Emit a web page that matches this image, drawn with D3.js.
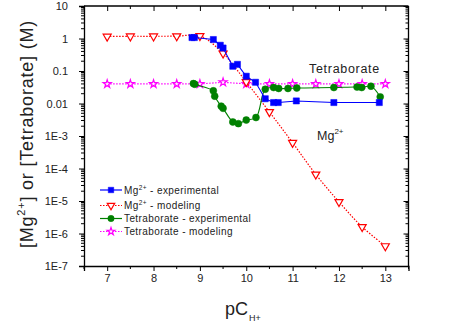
<!DOCTYPE html>
<html><head><meta charset="utf-8">
<script src="https://cdn.jsdelivr.net/npm/d3@7"></script>
<style>body{margin:0;background:#fff;}svg{display:block;font-family:"Liberation Sans",Arial,sans-serif;}</style>
</head><body><svg id="c" width="459" height="329"></svg>
<script>
// ---- data ----
const mgExpX = [8.83, 8.88, 9.29, 9.44, 9.5, 9.71, 9.81, 10.0, 10.2, 10.41, 10.59, 10.69, 11.08, 11.89, 12.87];
const mgExpY = [1.07, 1.07, 0.93, 0.62, 0.51, 0.14, 0.16, 0.069, 0.045, 0.014, 0.0107, 0.0107, 0.012, 0.0107, 0.0107];
const mgModX = [7, 7.5, 8, 8.5, 9, 9.5, 10, 10.5, 11, 11.5, 12, 12.5, 13];
const mgModY = [1.15, 1.17, 1.17, 1.18, 1.2, 0.35, 0.046, 0.0055, 6.2e-4, 6.6e-5, 9.4e-6, 1.6e-6, 4.1e-7];
const tetExpX = [8.86, 8.89, 9.29, 9.32, 9.46, 9.5, 9.71, 9.83, 10.0, 10.21, 10.41, 10.59, 10.7, 10.9, 11.09, 11.89, 12.39, 12.49, 12.69, 12.89];
const tetExpY = [0.041, 0.039, 0.0245, 0.0168, 0.0083, 0.0071, 0.0027, 0.0024, 0.0031, 0.0037, 0.0275, 0.031, 0.029, 0.029, 0.030, 0.031, 0.032, 0.031, 0.034, 0.016];
const tetModX = [7, 7.5, 8, 8.5, 9, 9.5, 10, 10.5, 11, 11.5, 12, 12.5, 13];
const tetModY = [0.04, 0.04, 0.04, 0.04, 0.04, 0.045, 0.04, 0.04, 0.04, 0.04, 0.04, 0.04, 0.04];
const xTicks = [7, 8, 9, 10, 11, 12, 13];
const yTicks = [1e-7, 1e-6, 1e-5, 1e-4, 1e-3, 0.01, 0.1, 1, 10];
const yTickLabels = ["1E-7", "1E-6", "1E-5", "1E-4", "1E-3", "0.01", "0.1", "1", "10"];
const legendNames = [["Mg", "2+", " - experimental"], ["Mg", "2+", " - modeling"], ["Tetraborate - experimental", "", ""], ["Tetraborate - modeling", "", ""]];

// ---- layout ----
const L = 84, R = 408.5, T = 6, B = 266;
const x = d3.scaleLinear().domain([6.5, 13.5]).range([L, R]);
const y = d3.scaleLog().domain([1e-7, 10]).range([B, T]);
const svg = d3.select("#c");

// minor ticks
const xMinor = d3.range(6.5, 13.51, 0.5).filter(v => !xTicks.includes(v));
const yMinor = [];
for (let e = -7; e < 1; e++) for (let m = 2; m <= 9; m++) yMinor.push(m * Math.pow(10, e));

const ink = "#000";
// bottom axis
const bAx = svg.append("g").attr("transform", `translate(0,${B})`)
  .call(d3.axisBottom(x).tickValues(xTicks).tickFormat(d3.format("d")).tickSize(5).tickPadding(3));
bAx.append("g").selectAll("line").data(xMinor).join("line")
  .attr("x1", d => x(d)).attr("x2", d => x(d)).attr("y1", 0).attr("y2", 3).attr("stroke", ink);
// top axis (ticks inward)
const tAx = svg.append("g").attr("transform", `translate(0,${T})`)
  .call(d3.axisBottom(x).tickValues(xTicks).tickFormat("").tickSize(5));
tAx.append("g").selectAll("line").data(xMinor).join("line")
  .attr("x1", d => x(d)).attr("x2", d => x(d)).attr("y1", 0).attr("y2", 3).attr("stroke", ink);
// left axis
const lAx = svg.append("g").attr("transform", `translate(${L},0)`)
  .call(d3.axisLeft(y).tickValues(yTicks).tickFormat((d, i) => yTickLabels[i]).tickSize(5).tickPadding(11));
lAx.append("g").selectAll("line").data(yMinor).join("line")
  .attr("y1", d => y(d)).attr("y2", d => y(d)).attr("x1", 0).attr("x2", -3).attr("stroke", ink);
// right axis (ticks inward)
const rAx = svg.append("g").attr("transform", `translate(${R},0)`)
  .call(d3.axisLeft(y).tickValues(yTicks).tickFormat("").tickSize(5));
rAx.append("g").selectAll("line").data(yMinor).join("line")
  .attr("y1", d => y(d)).attr("y2", d => y(d)).attr("x1", 0).attr("x2", -3).attr("stroke", ink);

svg.selectAll(".domain").attr("stroke", ink).attr("stroke-width", 1.3);
svg.selectAll(".tick line").attr("stroke", ink);
svg.selectAll(".tick text").attr("font-size", 11).attr("fill", "#222").attr("font-family", "Liberation Sans, Arial, sans-serif");
[tAx, rAx].forEach(g => g.selectAll("path.domain").attr("d", null));
svg.append("line").attr("x1", L).attr("x2", R).attr("y1", T).attr("y2", T).attr("stroke", ink).attr("stroke-width", 1.3);
svg.append("line").attr("x1", R).attr("x2", R).attr("y1", T).attr("y2", B).attr("stroke", ink).attr("stroke-width", 1.3);

// ---- series ----
function series(xs, ys, color, dash, sym, size, fill, curve) {
  const pts = xs.map((v, i) => [v, ys[i]]);
  const line = d3.line().x(d => x(d[0])).y(d => y(d[1])).curve(curve);
  svg.append("path").attr("d", line(pts)).attr("fill", "none").attr("stroke", color)
    .attr("stroke-width", dash ? 1.2 : 1.1).attr("stroke-dasharray", dash || null);
  svg.append("g").selectAll("path").data(pts).join("path")
    .attr("transform", d => `translate(${x(d[0])},${y(d[1])})${sym === "tri" ? " rotate(180)" : ""}`)
    .attr("d", d3.symbol().type(sym === "tri" ? d3.symbolTriangle : sym).size(size)())
    .attr("fill", fill).attr("stroke", color).attr("stroke-width", fill === color ? 0.5 : 1.2);
}
const cr = d3.curveCatmullRom.alpha(0.5);
series(tetModX, tetModY, "#ff00ff", "1.5,1.5", d3.symbolStar, 20, "#fff", d3.curveLinear);
series(mgModX, mgModY, "#ff0000", "1.5,1.5", "tri", 28, "#fff", cr);
series(tetExpX, tetExpY, "#008000", null, d3.symbolCircle, 38, "#008000", cr);
series(mgExpX, mgExpY, "#0000ff", null, d3.symbolSquare, 38, "#0000ff", d3.curveLinear);

// ---- legend ----
const legColors = ["#0000ff", "#ff0000", "#008000", "#ff00ff"];
const legSyms = [d3.symbolSquare, "tri", d3.symbolCircle, d3.symbolStar];
const legSizes = [30, 24, 32, 18];
const legY = [190, 205.5, 218.5, 231.5];
legendNames.forEach((nm, i) => {
  const g = svg.append("g").attr("transform", `translate(0,${legY[i]})`);
  g.append("line").attr("x1", 100).attr("x2", 122).attr("y1", 0).attr("y2", 0)
    .attr("stroke", legColors[i]).attr("stroke-width", 1.2).attr("stroke-dasharray", i % 2 ? "1.5,1.5" : null);
  g.append("path").attr("transform", `translate(111,0)${legSyms[i] === "tri" ? " rotate(180)" : ""}`)
    .attr("d", d3.symbol().type(legSyms[i] === "tri" ? d3.symbolTriangle : legSyms[i]).size(legSizes[i])())
    .attr("fill", i % 2 ? "#fff" : legColors[i]).attr("stroke", legColors[i]).attr("stroke-width", i % 2 ? 1.2 : 0.5);
  const t = g.append("text").attr("x", 124).attr("y", 3.5).attr("font-size", 10).attr("letter-spacing", 0.4).attr("fill", "#222");
  t.append("tspan").text(nm[0]);
  if (nm[1]) {
    t.append("tspan").attr("dy", -4).attr("font-size", 6.5).text(nm[1]);
    t.append("tspan").attr("dy", 4).text(nm[2]);
  }
});

// ---- annotations ----
svg.append("text").attr("x", 309).attr("y", 73).attr("font-size", 12.5).attr("letter-spacing", 0.7).attr("fill", "#222").text("Tetraborate");
const mgT = svg.append("text").attr("x", 317).attr("y", 139.5).attr("font-size", 12.5).attr("fill", "#222");
mgT.append("tspan").text("Mg");
mgT.append("tspan").attr("dy", -6).attr("font-size", 8).text("2+");

// ---- axis titles ----
const xt = svg.append("text").attr("x", 225).attr("y", 315).attr("font-size", 18).attr("fill", "#222");
xt.append("tspan").text("pC");
xt.append("tspan").attr("dy", 6).attr("font-size", 9).attr("dx", 1).text("H+");

const yt = svg.append("text").attr("transform", `translate(33,${(T + B) / 2 - 2}) rotate(-90)`)
  .attr("text-anchor", "middle").attr("font-size", 18).attr("letter-spacing", 0.8).attr("fill", "#222");
yt.append("tspan").text("[Mg");
yt.append("tspan").attr("dy", -8).attr("font-size", 11).text("2+");
yt.append("tspan").attr("dy", 8).text("] or [Tetraborate] (M)");
</script></body></html>
